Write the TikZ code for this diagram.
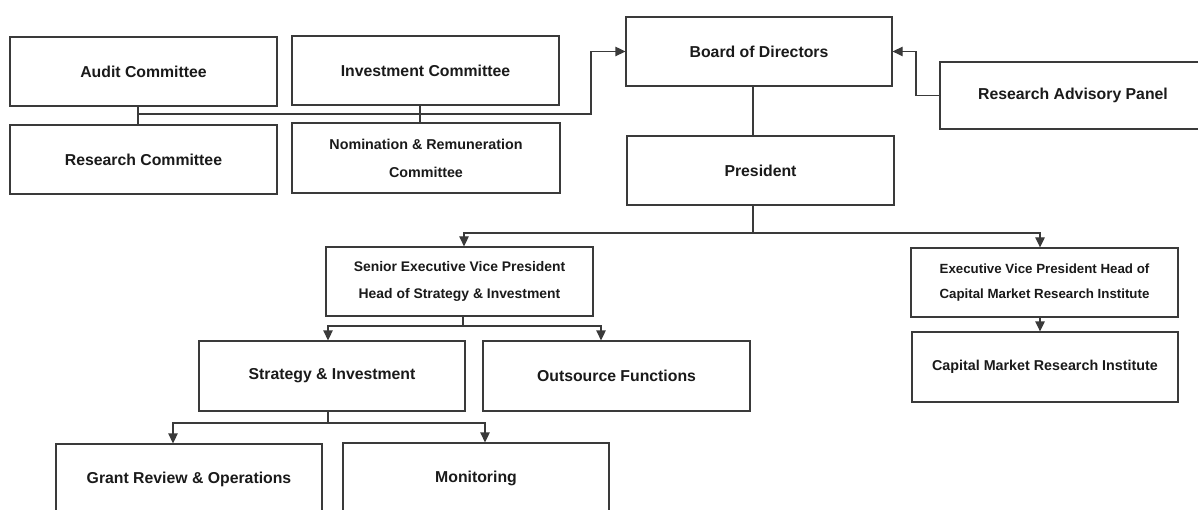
\documentclass[tikz,border=0pt]{standalone}
\usepackage{fontspec}
\setmainfont{Liberation Sans}
\usetikzlibrary{arrows.meta}
\definecolor{linec}{HTML}{3A3A3A}
\definecolor{txt}{HTML}{1A1A1A}
\begin{document}
\begin{tikzpicture}[x=1pt,y=-1pt,
  box/.style={draw=linec, line width=1.3pt, minimum width=267pt, minimum height=69pt, inner sep=0pt,
    font=\bfseries\fontsize{15.8}{19}\selectfont, text=txt, align=center},
  conn/.style={draw=linec, line width=1.3pt},
  arr/.style={conn, -{Triangle[width=9.5pt,length=10pt]}}]
\useasboundingbox (0,0) rectangle (1198,510);
\fill[white] (0,0) rectangle (1198,510);
\clip (0,0) rectangle (1198,510);
% nodes
\node[box] (audit) at (143.5,71.5) {Audit Committee};
\node[box] (inv) at (425.5,70.5) {Investment Committee};
\node[box] (res) at (143.5,159.5) {Research Committee};
\node[box, minimum width=268pt, minimum height=70pt, font=\bfseries\fontsize{14.3}{28}\selectfont] (nom) at (426,158) {Nomination \& Remuneration\\Committee};
\node[box, minimum width=266pt] (board) at (759,51.5) {Board of Directors};
\node[box, minimum width=266pt, minimum height=67pt] (rap) at (1073,95.5) {Research Advisory Panel};
\node[box] (pres) at (760.5,170.5) {President};
\node[box, font=\bfseries\fontsize{13.9}{27}\selectfont] (sevp) at (459.5,281.5) {Senior Executive Vice President\\Head of Strategy \& Investment};
\node[box, font=\bfseries\fontsize{13.3}{25}\selectfont] (evp) at (1044.5,282.5) {Executive Vice President Head of\\Capital Market Research Institute};
\node[box, minimum width=266pt, minimum height=70pt, font=\bfseries\fontsize{14.3}{17}\selectfont] (cmri) at (1045,367) {Capital Market Research Institute};
\node[box, minimum width=266pt, minimum height=70pt] (strat) at (332,376) {Strategy \& Investment};
\node[box, minimum height=70pt] (out) at (616.5,376) {Outsource Functions};
\node[box, minimum width=266pt, minimum height=70pt] (grant) at (189,479) {Grant Review \& Operations};
\node[box, minimum width=266pt, minimum height=70pt] (mon) at (476,478) {Monitoring};
% junction coordinates
\coordinate (ja) at (138,114);
\coordinate (jb) at (420,114);
\coordinate (jc) at (591,114);
\coordinate (jr) at (916,96);
\coordinate (jp) at (753,233);
\coordinate (js1) at (464,233);
\coordinate (je1) at (1040,233);
\coordinate (js) at (463,326);
\coordinate (js2) at (328,326);
\coordinate (js3) at (601,326);
\coordinate (jt) at (328,423);
\coordinate (jt2) at (173,423);
\coordinate (jt3) at (485,423);
% connectors
\draw[conn] (audit.south -| ja) -- (res.north -| ja);
\draw[conn] (inv.south -| jb) -- (nom.north -| jb);
\draw[arr] (ja) -- (jc) |- (board.west);
\draw[arr] (rap.west) -- (rap.west -| jr) |- (board.east);
\draw[conn] (board.south -| jp) -- (pres.north -| jp);
\draw[conn] (pres.south -| jp) -- (jp);
\draw[arr] (jp) -- (js1) -- (sevp.north -| js1);
\draw[arr] (jp) -- (je1) -- (evp.north -| je1);
\draw[conn] (sevp.south -| js) -- (js);
\draw[arr] (js) -- (js2) -- (strat.north -| js2);
\draw[arr] (js) -- (js3) -- (out.north -| js3);
\draw[arr] (evp.south -| je1) -- (cmri.north -| je1);
\draw[conn] (strat.south -| jt) -- (jt);
\draw[arr] (jt) -- (jt2) -- (grant.north -| jt2);
\draw[arr] (jt) -- (jt3) -- (mon.north -| jt3);
\end{tikzpicture}
\end{document}
